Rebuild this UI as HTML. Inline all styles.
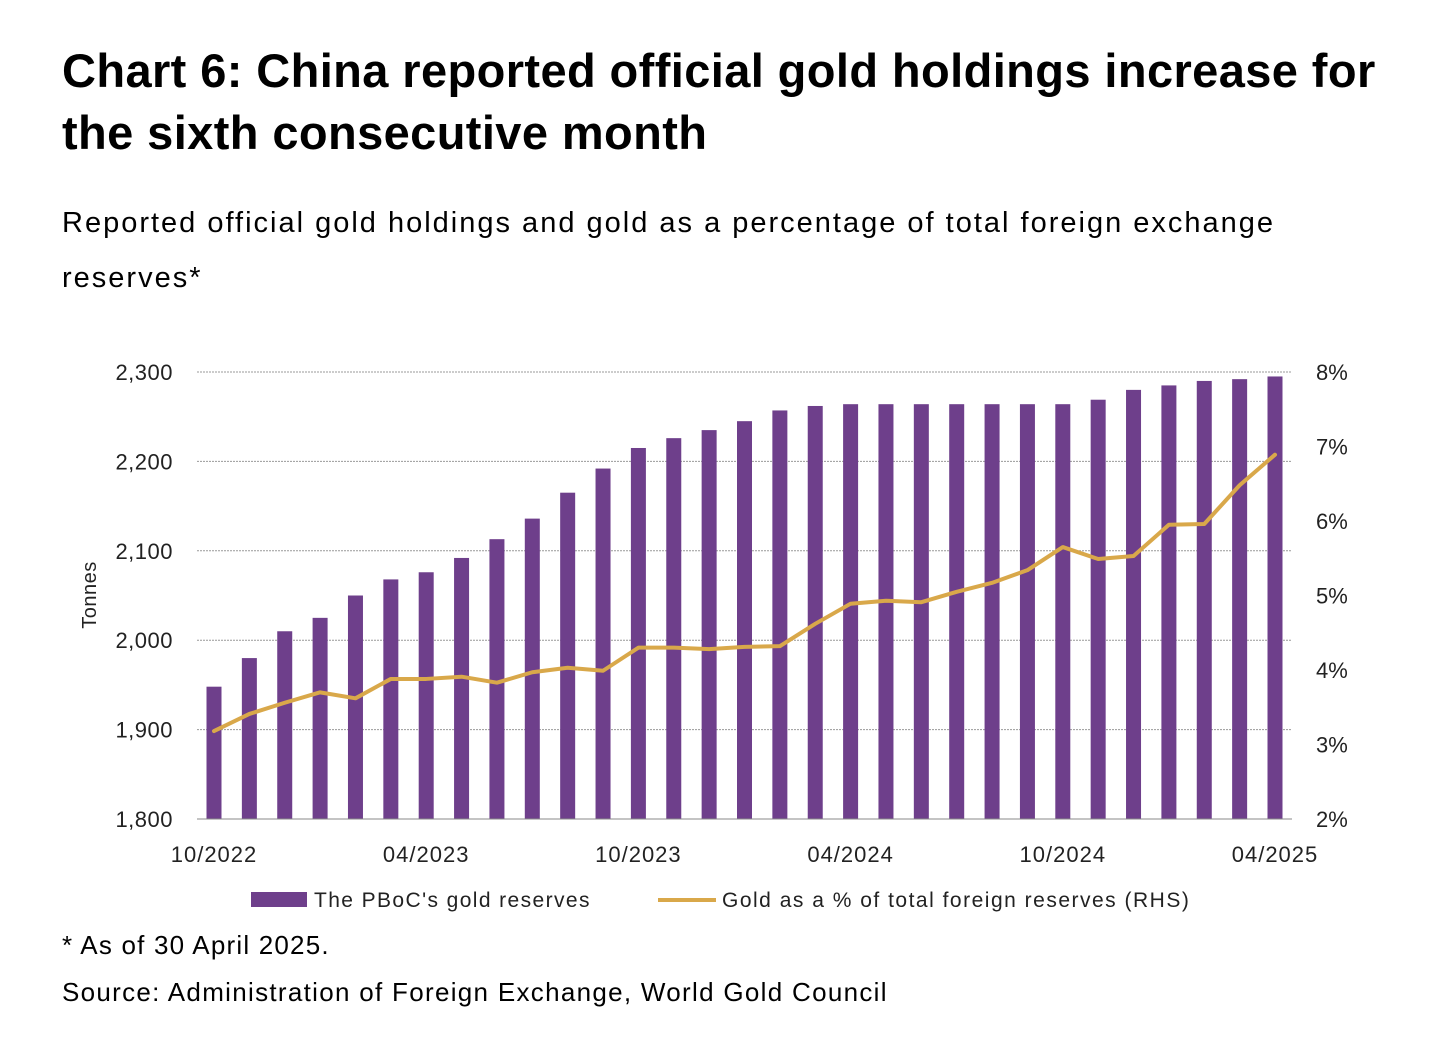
<!DOCTYPE html>
<html><head><meta charset="utf-8"><style>
body{margin:0;width:1456px;height:1049px;background:#fff;font-family:"Liberation Sans",sans-serif;overflow:hidden;position:relative}
.t{position:absolute;left:62px;color:#000}
</style></head><body>
<div class="t" style="top:40px;font-size:47px;font-weight:bold;line-height:62px;letter-spacing:0.4px">Chart 6: China reported official gold holdings increase for<br>the sixth consecutive month</div>
<div class="t" style="top:196px;font-size:29px;line-height:55px;letter-spacing:2px">Reported official gold holdings and gold as a percentage of total foreign exchange<br>reserves*</div>
<svg id="c" width="1456" height="1049" style="position:absolute;left:0;top:0" font-family="Liberation Sans, sans-serif"></svg>
<div class="t" style="top:930px;font-size:26px;letter-spacing:1.2px">* As of 30 April 2025.</div>
<div class="t" style="top:977px;font-size:26px;letter-spacing:1.3px">Source: Administration of Foreign Exchange, World Gold Council</div>
<script>
const categories=["10/2022","11/2022","12/2022","01/2023","02/2023","03/2023","04/2023","05/2023","06/2023","07/2023","08/2023","09/2023","10/2023","11/2023","12/2023","01/2024","02/2024","03/2024","04/2024","05/2024","06/2024","07/2024","08/2024","09/2024","10/2024","11/2024","12/2024","01/2025","02/2025","03/2025","04/2025"];
const reserves=[1948,1980,2010,2025,2050,2068,2076,2092,2113,2136,2165,2192,2215,2226,2235,2245,2257,2262,2264,2264,2264,2264,2264,2264,2264,2269,2280,2285,2290,2292,2295];
const goldPct=[3.18,3.41,3.56,3.70,3.62,3.88,3.88,3.91,3.83,3.97,4.03,3.99,4.30,4.30,4.28,4.31,4.32,4.62,4.89,4.93,4.91,5.05,5.17,5.34,5.65,5.49,5.53,5.95,5.96,6.48,6.89];
const leftTicks=[1800,1900,2000,2100,2200,2300];
const rightTicks=[2,3,4,5,6,7,8];
const xLabelIdx=[0,6,12,18,24,30];
const svg=document.getElementById('c');const NS='http://www.w3.org/2000/svg';
function mk(t,a,txt){const e=document.createElementNS(NS,t);for(const k in a)e.setAttribute(k,a[k]);if(txt!=null)e.textContent=txt;svg.appendChild(e);return e;}
const yL=v=>819-(v-1800)*(447/500);
const yR=v=>819-(v-2)*(447/6);
const x=i=>214+i*(1275-214)/(categories.length-1);
leftTicks.forEach(v=>{
 if(v>1800){const g=mk('line',{x1:197,x2:1292,y1:yL(v),y2:yL(v),stroke:'#999','stroke-dasharray':'2,1','stroke-width':1});
 }
 const t=mk('text',{x:173,y:yL(v)+8,'text-anchor':'end','font-size':22,'letter-spacing':0.5,fill:'#222'},v.toLocaleString('en-US'));
 
});
rightTicks.forEach(v=>{const t=mk('text',{x:1316,y:yR(v)+8,'font-size':22,fill:'#222'},v+'%');
 });
reserves.forEach((v,i)=>{const r=mk('rect',{x:x(i)-7.5,y:yL(v),width:15,height:819-yL(v),fill:'#6e3f8b'});
 });
const ax=mk('line',{x1:197,x2:1292,y1:819,y2:819,stroke:'#888','stroke-width':1});

const ln=mk('polyline',{points:goldPct.map((v,i)=>x(i)+','+yR(v)).join(' '),fill:'none',stroke:'#d9a84a','stroke-width':4,'stroke-linejoin':'round','stroke-linecap':'round'});

xLabelIdx.forEach(i=>{const t=mk('text',{x:x(i),y:862,'text-anchor':'middle','font-size':22,'letter-spacing':1,fill:'#222'},categories[i]);
 });
const yt=mk('text',{x:96,y:595,'text-anchor':'middle','font-size':20,'letter-spacing':0.5,fill:'#222',transform:'rotate(-90 96 595)'},'Tonnes');

const l1=mk('rect',{x:251,y:892,width:56,height:15,fill:'#6e3f8b'});

const l1t=mk('text',{x:314,y:907,'font-size':21,'letter-spacing':1.4,fill:'#222'},"The PBoC's gold reserves");

const l2=mk('line',{x1:658,x2:716,y1:900,y2:900,stroke:'#d9a84a','stroke-width':4});

const l2t=mk('text',{x:722,y:907,'font-size':21,'letter-spacing':1.5,fill:'#222'},'Gold as a % of total foreign reserves (RHS)');

</script>
</body></html>
